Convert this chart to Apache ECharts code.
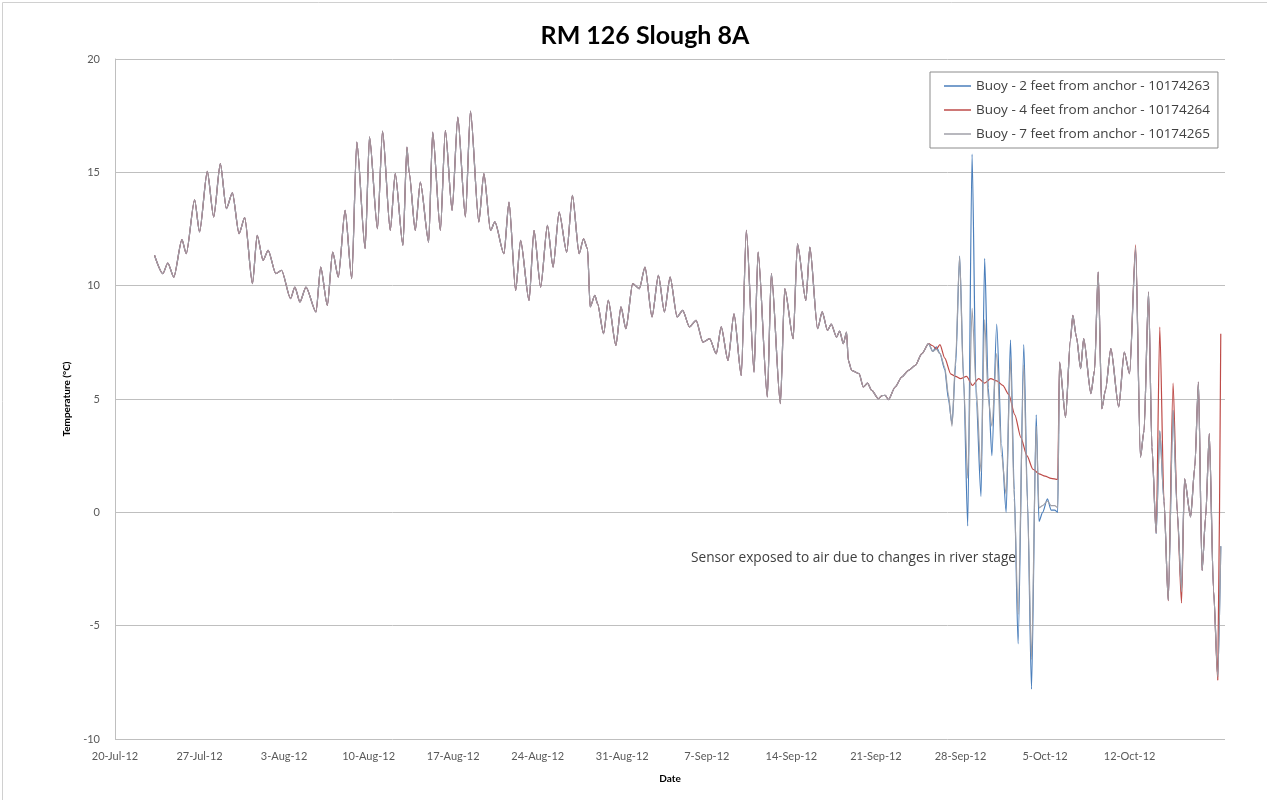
<!DOCTYPE html>
<html>
<head>
<meta charset="utf-8">
<script src="https://cdn.jsdelivr.net/npm/echarts@6/dist/echarts.min.js"></script>
<style>html,body{margin:0;padding:0;background:#fff}#c{width:1267px;height:800px}</style>
</head>
<body>
<div id="c"></div>
<script>
// ---- data (x = days since 20-Jul-12 00:00) ----
const xTickLabels = ['20-Jul-12','27-Jul-12','3-Aug-12','10-Aug-12','17-Aug-12','24-Aug-12','31-Aug-12','7-Sep-12','14-Sep-12','21-Sep-12','28-Sep-12','5-Oct-12','12-Oct-12'];
const seriesNames = ['Buoy - 2 feet from anchor - 10174263','Buoy - 4 feet from anchor - 10174264','Buoy - 7 feet from anchor - 10174265'];

// period where all three sensors read the same
const sharedDays = [3.27,3.96,4.37,4.87,5.54,5.9,6.59,7.0,7.64,8.17,8.72,9.22,9.72,10.27,10.74,11.38,11.77,12.26,12.68,13.31,13.79,14.53,14.89,15.31,15.81,16.64,17.03,17.58,18.02,18.49,19.05,19.6,20.02,20.71,21.07,21.73,22.15,22.79,23.2,23.84,24.17,24.35,24.86,25.28,25.97,26.3,26.94,27.35,27.91,28.38,29.01,29.43,30.12,30.54,31.09,31.45,32.2,32.62,33.17,33.58,34.28,34.69,35.24,35.8,36.27,36.77,37.4,37.87,38.43,38.79,39.12,39.34,39.73,39.95,40.45,40.84,41.47,41.89,42.3,42.86,43.41,43.88,44.46,44.99,45.49,45.96,46.54,47.0,47.56,48.11,48.67,49.23,49.78,50.19,50.75,51.25,51.85,52.27,52.91,53.24,54.01,54.34,55.09,55.45,56.15,56.5,57.2,57.53,58.17,58.55,58.99,59.3,59.74,60.0,60.3,60.57,60.71,60.99,61.6,61.96,62.3,62.65,63.21,63.5,63.76,64.04,64.59,65.14,65.7,66.26,66.8,67.36];
const sharedTemp = [11.34,10.53,11.0,10.38,12.03,11.41,13.79,12.37,15.04,13.03,15.38,13.4,14.09,12.29,13.0,10.09,12.22,11.12,11.56,10.53,10.68,9.43,9.94,9.28,9.94,8.84,10.82,9.13,11.48,10.38,13.32,10.31,16.33,11.63,16.56,12.51,16.82,12.44,14.94,11.78,16.11,15.0,12.44,14.57,11.92,16.78,12.44,16.85,13.32,17.44,13.03,17.7,12.81,14.94,12.44,12.81,11.41,13.69,9.79,12.0,9.35,12.44,9.94,12.66,10.82,13.25,11.48,13.98,11.41,12.07,11.63,9.06,9.57,9.21,7.88,9.35,7.37,9.06,8.1,10.09,9.87,10.82,8.62,10.45,8.84,10.38,8.62,8.91,8.18,8.47,7.51,7.66,7.0,8.18,6.7,8.76,6.04,12.44,6.19,11.48,5.09,10.53,4.79,9.87,7.66,11.85,9.35,11.7,8.1,8.84,8.03,8.3,7.73,8.0,7.44,7.95,6.7,6.26,6.12,5.53,5.7,5.38,5.01,5.15,5.16,4.97,5.53,5.97,6.26,6.48,7.0,7.44];

// sensors exposed to air (2 ft and 7 ft)
const exposedDays = [67.7,68.0,68.3,68.7,69.0,69.3,69.6,69.93,70.25,70.6,70.96,71.3,71.7,72.0,72.3,72.6,73.0,73.4,73.78,74.14,74.45,74.77,75.24,75.55,75.88,76.27,76.5,76.8,77.2,77.5,77.8,78.05];
const exposedBlue = [7.1,7.3,7.0,6.3,5.0,3.9,6.5,11.3,6.0,-0.6,15.8,5.0,0.7,11.2,5.5,2.5,8.3,3.0,0.0,7.6,1.0,-5.8,7.4,0.5,-7.8,4.3,-0.4,0.0,0.6,0.1,0.1,0.0];
const exposedGrey = [7.1,7.2,7.0,6.4,5.2,3.8,6.8,11.3,5.8,1.5,9.0,5.5,1.8,8.5,5.0,3.8,7.0,2.5,0.8,6.8,0.6,-4.5,6.5,0.3,-6.5,3.8,0.2,0.3,0.5,0.3,0.3,0.2];

// 4 ft sensor in the same period
const redDays = [67.7,68.0,68.3,68.7,69.2,69.6,70.0,70.5,71.0,71.5,72.0,72.5,73.0,73.5,74.0,74.5,75.0,75.5,76.0,76.5,77.0,77.5,78.05];
const redTemp = [7.35,7.2,7.4,6.8,6.1,6.0,5.9,6.0,5.6,5.9,5.7,5.9,5.8,5.6,5.2,4.3,3.3,2.5,1.9,1.7,1.6,1.5,1.45];

// final period
const lateDays = [78.2,78.7,79.1,79.3,79.6,79.95,80.2,80.8,81.1,81.4,81.7,82.0,82.45,83.1,83.56,84.0,84.5,84.9,85.2,85.57,85.85,86.2,86.5,86.85,87.2,87.6,87.95,88.3,88.55,89.05,89.4,89.7,90.0,90.3,90.6,90.95,91.3,91.55];
const lateBlue = [6.63,4.2,7.59,8.69,7.73,6.34,7.66,5.24,6.26,10.6,4.57,5.38,7.22,4.65,7.07,6.12,11.6,2.44,3.62,9.72,2.88,-0.94,3.6,0.5,-3.88,4.5,0.0,-3.5,1.48,-0.2,2.0,5.75,-2.56,-0.2,3.47,-3.44,-7.26,-1.5];
const lateRed = [6.63,4.2,7.59,8.69,7.73,6.34,7.66,5.24,6.26,10.6,4.57,5.38,7.22,4.65,7.07,6.12,11.8,2.44,3.62,9.72,2.88,-0.9,8.17,0.5,-3.9,5.7,0.0,-4.0,1.48,-0.2,2.0,5.75,-2.56,-0.2,3.47,-3.44,-7.4,7.88];
const lateGrey = [6.63,4.2,7.59,8.69,7.73,6.34,7.66,5.24,6.26,10.6,4.57,5.38,7.22,4.65,7.07,6.12,11.7,2.44,3.62,9.72,2.88,-0.94,3.6,0.5,-3.88,4.5,0.0,-3.5,1.48,-0.2,2.0,5.75,-2.56,-0.2,3.47,-3.44,-7.26,-1.5];

const annotation = 'Sensor exposed to air due to changes in river stage';

// ---- build ----
const zip = (xs, ys) => xs.map((x, i) => [x, ys[i]]);
const shared = zip(sharedDays, sharedTemp);
const blueData = shared.concat(zip(exposedDays, exposedBlue), zip(lateDays, lateBlue));
const redData = shared.concat(zip(redDays, redTemp), zip(lateDays, lateRed));
const greyData = shared.concat(zip(exposedDays, exposedGrey), zip(lateDays, lateGrey));

const FONT = 'Lato, "Open Sans", sans-serif';
const FONT2 = '"Open Sans", Lato, sans-serif';
const chart = echarts.init(document.getElementById('c'), null, {renderer: 'canvas'});
const mk = (name, data, color, w) => ({
  name, type: 'line', data, symbol: 'none', showSymbol: false, animation: false,
  smooth: 0.25, smoothMonotone: 'x',
  lineStyle: {color, width: w}, itemStyle: {color}
});
chart.setOption({
  backgroundColor: '#fff',
  animation: false,
  title: {
    text: 'RM 126 Slough 8A', left: 640, top: 18, textAlign: 'center',
    textStyle: {fontFamily: FONT, fontSize: 25, fontWeight: 'bold', color: '#000'}
  },
  grid: {left: 115, right: 42, top: 59, bottom: 61, containLabel: false},
  legend: {
    orient: 'vertical', left: 930, top: 72,
    data: seriesNames, icon: 'rect',
    itemWidth: 27, itemHeight: 1.5, itemGap: 8,
    padding: [6, 8, 6, 14],
    borderColor: '#8c8c8c', borderWidth: 1,
    textStyle: {fontFamily: FONT2, fontSize: 13.5, lineHeight: 16, color: '#404040'}
  },
  xAxis: {
    type: 'value', min: 0, max: 91.9, interval: 7,
    name: 'Date', nameLocation: 'middle', nameGap: 35,
    nameTextStyle: {fontFamily: FONT, fontSize: 10, fontWeight: 'bold', color: '#000'},
    axisLine: {show: false},
    axisTick: {show: false},
    splitLine: {show: false},
    axisLabel: {
      fontFamily: FONT, fontSize: 11, color: '#595959', margin: 12, showMaxLabel: false,
      formatter: v => (v % 7 === 0 && v / 7 < xTickLabels.length) ? xTickLabels[v / 7] : ''
    }
  },
  yAxis: {
    type: 'value', min: -10, max: 20, interval: 5,
    name: 'Temperature (°C)', nameLocation: 'middle', nameGap: 43,
    nameTextStyle: {fontFamily: FONT, fontSize: 10, fontWeight: 'bold', color: '#000'},
    axisLine: {show: true, lineStyle: {color: '#bfbfbf', width: 1}},
    axisTick: {show: false},
    splitLine: {show: true, lineStyle: {color: '#bfbfbf', width: 1}},
    axisLabel: {fontFamily: FONT, fontSize: 11, color: '#595959', margin: 15}
  },
  graphic: [
    {type: 'rect', left: 0, top: 0, z: -10, silent: true,
     shape: {x: 0.5, y: 0.5, width: 1265, height: 798},
     style: {fill: null, stroke: '#d0d0d0', lineWidth: 1}},
    {type: 'text', left: 691, top: 551, z: 10,
     style: {text: annotation, fontFamily: FONT2, fontSize: 13.7, fill: '#404040'}}
  ],
  series: [
    mk(seriesNames[0], blueData, '#4a7ebb', 1.2),
    mk(seriesNames[1], redData, '#be4b48', 1.2),
    mk(seriesNames[2], greyData, '#a0a0a8', 1.2)
  ]
});
</script>
</body>
</html>
